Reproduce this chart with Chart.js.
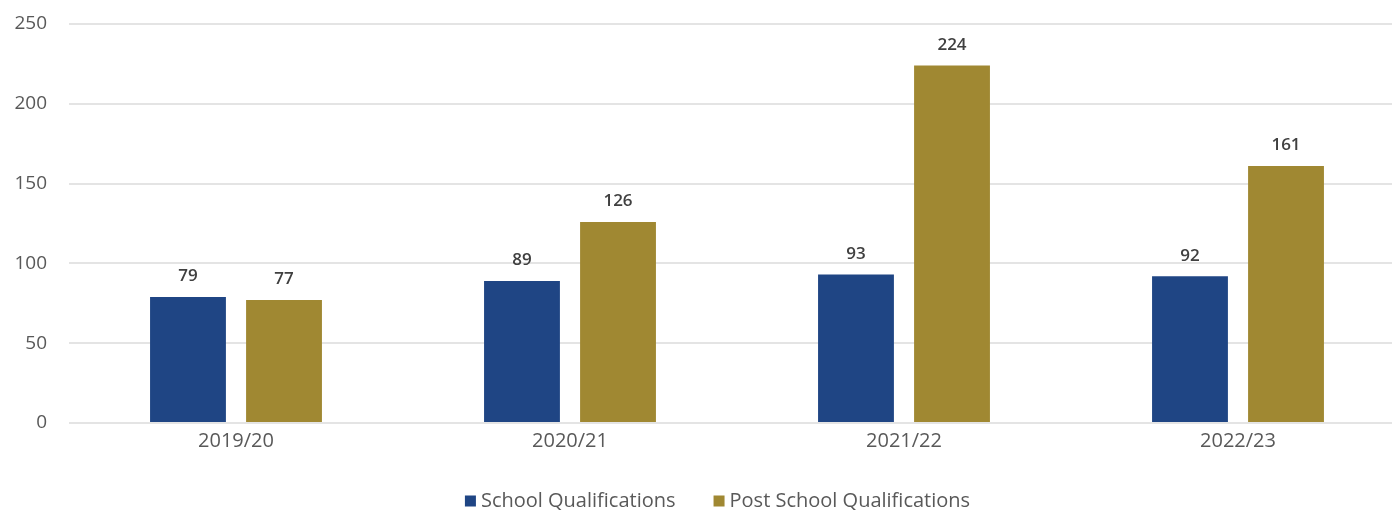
<!DOCTYPE html>
<html>
<head>
    <title>Qualifications</title>
    <script src="https://cdn.jsdelivr.net/npm/chart.js"></script>
    <style>
        html, body { margin: 0; padding: 0; background: #fff; overflow: hidden; }
        .chart-wrap { width: 1405px; height: 510px; position: relative; }
    </style>
</head>
<body>

<div class="chart-wrap"><canvas id="grafico"></canvas></div>

<script>
    const years = ['2019/20', '2020/21', '2021/22', '2022/23'];
    const schoolQuals = [79, 89, 93, 92];
    const postSchoolQuals = [77, 126, 224, 161];
    const yTicks = [0, 50, 100, 150, 200, 250];

    const FONT = '"Open Sans", sans-serif';

    // numbers above each bar
    const valueLabels = {
        id: 'valueLabels',
        afterDatasetsDraw(chart) {
            const ctx = chart.ctx;
            ctx.save();
            ctx.font = '600 17px ' + FONT;
            ctx.fillStyle = '#404040';
            ctx.textAlign = 'center';
            ctx.textBaseline = 'bottom';
            chart.data.datasets.forEach((ds, i) => {
                chart.getDatasetMeta(i).data.forEach((bar, j) => {
                    ctx.fillText(ds.data[j], bar.x, bar.y - 12);
                });
            });
            ctx.restore();
        }
    };

    // simple legend along the bottom edge, a little right of centre
    const bottomLegend = {
        id: 'bottomLegend',
        afterDraw(chart) {
            const ctx = chart.ctx;
            const box = 11, gapBox = 5, gapItem = 38;
            ctx.save();
            ctx.font = '20px ' + FONT;
            ctx.textBaseline = 'middle';
            const items = chart.data.datasets.map(ds => ({
                text: ds.label,
                color: ds.backgroundColor,
                w: box + gapBox + ctx.measureText(ds.label).width
            }));
            const total = items.reduce((s, it) => s + it.w, 0) + gapItem * (items.length - 1);
            let x = chart.width / 2 + 15 - total / 2;
            const y = 501;
            items.forEach(it => {
                ctx.fillStyle = it.color;
                ctx.fillRect(x, y - box / 2, box, box);
                ctx.fillStyle = '#595959';
                ctx.fillText(it.text, x + box + gapBox, y);
                x += it.w + gapItem;
            });
            ctx.restore();
        }
    };

    new Chart(document.getElementById('grafico'), {
        type: 'bar',
        data: {
            labels: years,
            datasets: [
                {
                    label: 'School Qualifications',
                    data: schoolQuals,
                    backgroundColor: '#1f4584',
                    categoryPercentage: 0.575,
                    barPercentage: 0.79
                },
                {
                    label: 'Post School Qualifications',
                    data: postSchoolQuals,
                    backgroundColor: '#a08832',
                    categoryPercentage: 0.575,
                    barPercentage: 0.79
                }
            ]
        },
        options: {
            responsive: true,
            maintainAspectRatio: false,
            animation: false,
            layout: { padding: { top: 24, left: 0, right: 0, bottom: 0 } },
            plugins: {
                tooltip: { enabled: false },
                legend: { display: false }
            },
            scales: {
                x: {
                    grid: { display: false, drawTicks: false },
                    border: { display: false },
                    ticks: {
                        font: { family: FONT, size: 20 },
                        color: '#595959',
                        padding: 6
                    },
                    afterFit(scale) { scale.height = 87; }
                },
                y: {
                    min: 0,
                    max: 250,
                    afterBuildTicks(scale) {
                        scale.ticks = yTicks.map(v => ({ value: v }));
                    },
                    grid: { color: '#e4e4e4', lineWidth: 2, drawTicks: false },
                    border: { display: false },
                    ticks: {
                        font: { family: FONT, size: 19 },
                        color: '#595959',
                        padding: 22
                    },
                    afterFit(scale) {
                        scale.width = 69;
                        // tick padding would otherwise push the plot down
                        scale.paddingTop = 0;
                        scale.paddingBottom = 0;
                    }
                }
            }
        },
        plugins: [valueLabels, bottomLegend]
    });
</script>

</body>
</html>
